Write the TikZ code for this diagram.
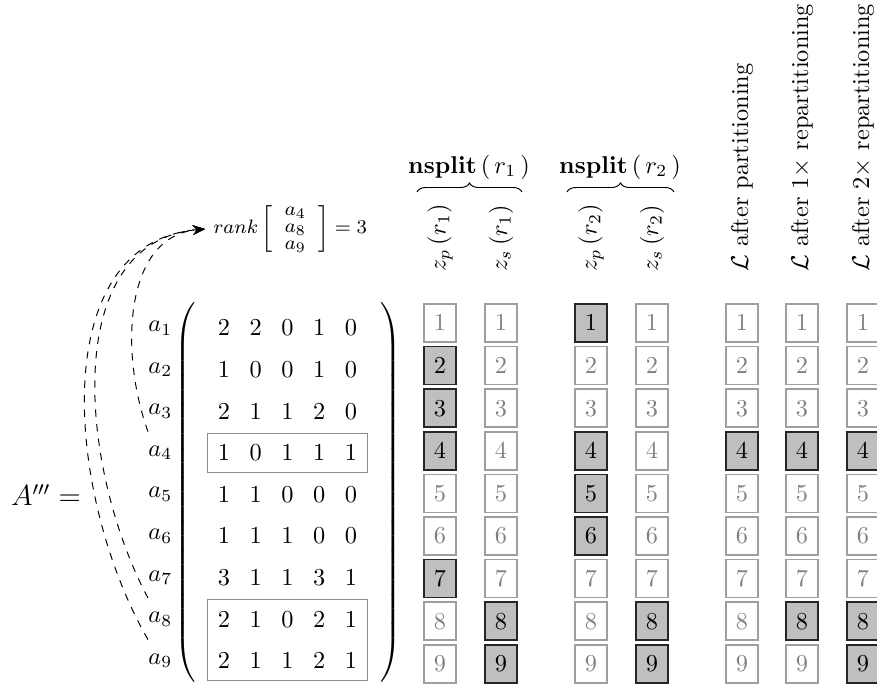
\documentclass[tikz,border=0pt]{standalone}
\usepackage{amsmath}
\usetikzlibrary{arrows.meta,decorations.pathreplacing,fit}
\begin{document}
\begin{tikzpicture}[x=0.411pt,y=-0.411pt,
  entry/.style={inner sep=0pt},
  rowlbl/.style={anchor=west,inner xsep=0pt,inner ysep=0pt,minimum height=17pt},
  rowbox/.style={draw=black!45,line width=0.5pt,inner xsep=4.1pt,inner ysep=4.6pt},
  cell/.style={draw=black!38,text=black!50,line width=0.6pt,minimum width=13.2pt,minimum height=15.6pt,inner sep=0pt},
  picked/.style={cell,draw=black!85,fill=black!25,text=black},
  hdr/.style={rotate=90,anchor=west,inner sep=2pt},
  link/.style={dashed,-{Stealth[length=5pt,width=4pt]},looseness=1},
  grpbrace/.style={decorate,decoration={brace,amplitude=3.7pt}}
]
\useasboundingbox (0,0) rectangle (877,686);

% the matrix A''' with its row labels
\node[font=\large] (lhs) at (46,495) {$A'''=$};
\foreach \r/\vals in {1/{2,2,0,1,0},2/{1,0,0,1,0},3/{2,1,1,2,0},4/{1,0,1,1,1},5/{1,1,0,0,0},6/{1,1,1,0,0},7/{3,1,1,3,1},8/{2,1,0,2,1},9/{2,1,1,2,1}}{
  \pgfmathsetmacro\ym{328+41.6*(\r-1)}
  \node[rowlbl] (a\r) at (148,\ym) {$a_{\r}$};
  \foreach \v [count=\c] in \vals
    \node[entry] (m-\r-\c) at ({224+31.75*(\c-1)},\ym) {$\v$};
}
\node[inner sep=0pt] (lp) at (186.5,492.5) {$\left(\vcenter{\hbox{\rule{0pt}{160pt}}}\right.$};
\node[inner sep=0pt] (rp) at (390,492.5) {$\left.\vcenter{\hbox{\rule{0pt}{160pt}}}\right)$};

% rows picked for the rank test
\node[rowbox,fit=(m-4-1)(m-4-5)] (sel4) {};
\node[rowbox,fit=(m-8-1)(m-9-5)] (sel89) {};

\node[anchor=west,font=\footnotesize] (rank) at (205,229)
  {$rank\left[\renewcommand{\arraystretch}{0.74}\begin{array}{c}a_4\\ a_8\\ a_9\end{array}\right] = 3$};

\draw[link] (a4.north west) to[out=110,in=185] (rank.west);
\draw[link] (a8.north west) to[out=118,in=185] (rank.west);
\draw[link] (a9.north west) to[out=120,in=185] (rank.west);

% index columns: 1 marks a highlighted row
\foreach \c/\x/\flags in {1/440/{0,1,1,1,0,0,1,0,0},2/501/{0,0,0,0,0,0,0,1,1},3/591/{1,0,0,1,1,1,0,0,0},4/652/{0,0,0,0,0,0,0,1,1},5/742/{0,0,0,1,0,0,0,0,0},6/802/{0,0,0,1,0,0,0,1,0},7/863/{0,0,0,1,0,0,0,1,1}}{
  \foreach \f [count=\r] in \flags {
    \pgfmathsetmacro\yb{323+42.6*(\r-1)}
    \ifnum\f=1
      \node[picked] (c\c-\r) at (\x,\yb) {$\r$};
    \else
      \node[cell] (c\c-\r) at (\x,\yb) {$\r$};
    \fi
  }
}

% column headers
\node[hdr] (h1) at (440,277) {$z_p\left(r_1\right)$};
\node[hdr] (h2) at (501,277) {$z_s\left(r_1\right)$};
\node[hdr] (h3) at (591,277) {$z_p\left(r_2\right)$};
\node[hdr] (h4) at (652,277) {$z_s\left(r_2\right)$};
\node[hdr] (h5) at (742,277) {$\mathcal{L}$ after partitioning};
\node[hdr] (h6) at (802,277) {$\mathcal{L}$ after $1\times$ repartitioning};
\node[hdr] (h7) at (863,277) {$\mathcal{L}$ after $2\times$ repartitioning};

\node (n1) at (469,167) {$\mathbf{nsplit}\left(\,r_1\,\right)$};
\node (n2) at (620,167) {$\mathbf{nsplit}\left(\,r_2\,\right)$};
\draw[grpbrace] (417,192) -- (522,192);
\draw[grpbrace] (567,192) -- (674,192);
\end{tikzpicture}
\end{document}
